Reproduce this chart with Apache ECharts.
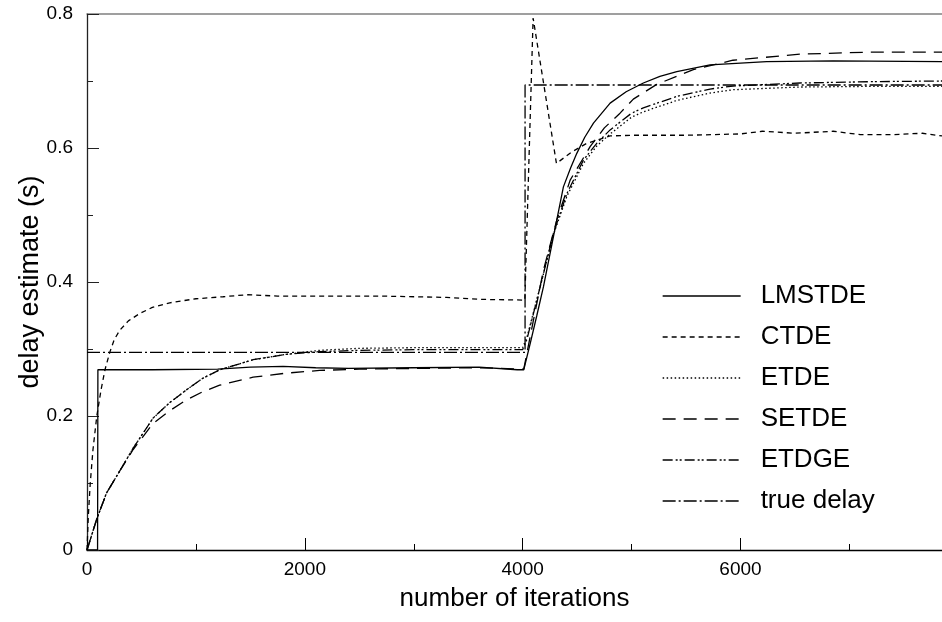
<!DOCTYPE html>
<html>
<head>
<meta charset="utf-8">
<title>delay estimate</title>
<script src="https://cdn.jsdelivr.net/npm/echarts@6/dist/echarts.min.js"></script>
<style>
    html, body { margin: 0; padding: 0; background: #fff; }
    #main { width: 942px; height: 622px; }
</style>
</head>
<body>
<div id="main"></div>
<script>
// 各曲线数据 [迭代次数, 延时估计]
var lmstde = [[0,0],[97,0],[100,0.269],[600,0.269],[1200,0.270],[1500,0.273],[1800,0.274],[2100,0.272],
    [2400,0.271],[3000,0.272],[3600,0.273],[3950,0.269],[4010,0.269],[4069,0.308],[4130,0.350],[4191,0.393],
    [4283,0.468],[4374,0.542],[4440,0.570],[4497,0.592],[4570,0.616],[4650,0.637],[4803,0.667],[4950,0.684],
    [5108,0.697],[5260,0.707],[5415,0.714],[5720,0.724],[6240,0.729],[6850,0.730],[7850,0.729]];
var ctde = [[0,0],[12,0.05],[30,0.1],[55,0.15],[90,0.2],[130,0.24],[165,0.269],[209,0.295],[250,0.314],
    [301,0.328],[380,0.342],[484,0.353],[600,0.362],[760,0.369],[1000,0.375],[1250,0.378],[1470,0.381],
    [1750,0.379],[2000,0.379],[2700,0.379],[3300,0.377],[3640,0.374],[4020,0.373],[4096,0.794],[4310,0.577],
    [4450,0.594],[4589,0.607],[4803,0.618],[5000,0.619],[5500,0.619],[6000,0.621],[6200,0.625],[6500,0.622],
    [6850,0.625],[7100,0.620],[7400,0.620],[7670,0.622],[7850,0.618]];
var etde = [[0,0],[87,0.045],[179,0.085],[301,0.118],[424,0.152],[607,0.197],[760,0.220],[913,0.239],
    [1060,0.256],[1218,0.269],[1525,0.284],[1830,0.292],[2136,0.298],[2500,0.301],[3000,0.302],[3500,0.302],
    [4000,0.302],[4040,0.318],[4161,0.393],[4283,0.471],[4406,0.528],[4558,0.577],[4680,0.603],[4803,0.621],
    [5000,0.646],[5108,0.654],[5415,0.671],[5720,0.682],[5931,0.687],[6546,0.691],[7200,0.692],[7850,0.692]];
var setde = [[0,0],[87,0.045],[179,0.085],[301,0.118],[424,0.150],[607,0.189],[760,0.208],[913,0.224],
    [1060,0.236],[1218,0.246],[1525,0.258],[1830,0.264],[2136,0.268],[2500,0.270],[3000,0.271],[3600,0.272],
    [4010,0.270],[4099,0.343],[4191,0.418],[4314,0.493],[4436,0.552],[4619,0.602],[4750,0.630],[4894,0.652],
    [5016,0.673],[5231,0.695],[5567,0.717],[5931,0.731],[6546,0.740],[7158,0.743],[7850,0.743]];
var etdge = [[0,0],[87,0.045],[179,0.085],[301,0.118],[424,0.152],[607,0.197],[760,0.220],[913,0.239],
    [1060,0.256],[1218,0.269],[1525,0.284],[1830,0.292],[2136,0.296],[2500,0.298],[3000,0.299],[3500,0.299],
    [4000,0.299],[4040,0.315],[4161,0.393],[4283,0.473],[4406,0.532],[4558,0.582],[4680,0.607],[4803,0.627],
    [5000,0.652],[5108,0.660],[5415,0.677],[5720,0.688],[5931,0.6925],[6546,0.697],[7200,0.699],[7850,0.700]];
var trueDelay = [[0,0.295],[4022,0.295],[4022,0.694],[7850,0.694]];

// 刻度
var xMajorTicks = [0, 2000, 4000, 6000];
var xMinorTicks = [1000, 3000, 5000, 7000];

var font = 'Liberation Sans, Arial, Helvetica, sans-serif';

function mkLine(name, data, dash) {
    return {
        name: name,
        type: 'line',
        data: data,
        symbol: 'none',
        xAxisIndex: 0,
        lineStyle: { color: '#000', width: 1.3, type: dash },
        itemStyle: { color: '#000' },
        emphasis: { disabled: true },
        animation: false
    };
}

var myChart = echarts.init(document.getElementById('main'));

var option = {
    backgroundColor: '#fff',
    textStyle: { fontFamily: font },
    grid: { left: 87, right: 0, top: 14, bottom: 72 },
    legend: {
        orient: 'vertical',
        left: 662,
        top: 281,
        padding: 0,
        itemWidth: 78,
        itemHeight: 14,
        itemGap: 11,
        selectedMode: false,
        itemStyle: { color: 'rgba(0,0,0,0)', borderWidth: 0 },
        lineStyle: { width: 1.3 },
        textStyle: { fontSize: 26, lineHeight: 30, color: '#000', padding: [0, 0, 0, 15], fontFamily: font },
        data: ['LMSTDE', 'CTDE', 'ETDE', 'SETDE', 'ETDGE', 'true delay']
    },
    xAxis: [{
        type: 'value',
        min: 0,
        max: 7850,
        name: 'number of iterations',
        nameLocation: 'middle',
        nameGap: 36,
        nameMoveOverlap: false,
        nameTextStyle: { fontSize: 26, color: '#000', fontFamily: font },
        axisLine: { lineStyle: { color: '#000', width: 1.3 } },
        axisTick: { inside: true, length: 12, customValues: xMajorTicks, lineStyle: { color: '#000' } },
        axisLabel: {
            customValues: xMajorTicks, fontSize: 19, color: '#000', margin: 10,
            formatter: function (v) { return String(v); }
        },
        splitLine: { show: false }
    }, {
        type: 'value',
        position: 'bottom',
        min: 0,
        max: 7850,
        axisLine: { show: false },
        axisTick: { inside: true, length: 6, customValues: xMinorTicks, lineStyle: { color: '#000' } },
        axisLabel: { show: false },
        splitLine: { show: false }
    }, {
        type: 'value',
        position: 'top',
        min: 0,
        max: 7850,
        axisLine: { lineStyle: { color: '#808080', width: 1.5 } },
        axisTick: { show: false },
        axisLabel: { show: false },
        splitLine: { show: false }
    }],
    yAxis: {
        type: 'value',
        min: 0,
        max: 0.8,
        interval: 0.2,
        name: 'delay estimate (s)',
        nameLocation: 'middle',
        nameGap: 43,
        nameMoveOverlap: false,
        nameTextStyle: { fontSize: 27, color: '#000', fontFamily: font },
        axisLine: { show: true, lineStyle: { color: '#222', width: 1.3 } },
        axisTick: { inside: true, length: 12, lineStyle: { color: '#222' } },
        minorTick: { show: true, splitNumber: 2, length: 6, lineStyle: { color: '#222' } },
        axisLabel: { fontSize: 19, color: '#000', margin: 14 },
        splitLine: { show: false }
    },
    series: [
        mkLine('LMSTDE', lmstde, 'solid'),
        mkLine('CTDE', ctde, [5, 4]),
        mkLine('ETDE', etde, [1.5, 2.5]),
        mkLine('SETDE', setde, [13, 8]),
        mkLine('ETDGE', etdge, [10, 3, 2, 2, 2, 3]),
        mkLine('true delay', trueDelay, [13, 3, 2, 3])
    ]
};
myChart.setOption(option);
</script>
</body>
</html>
